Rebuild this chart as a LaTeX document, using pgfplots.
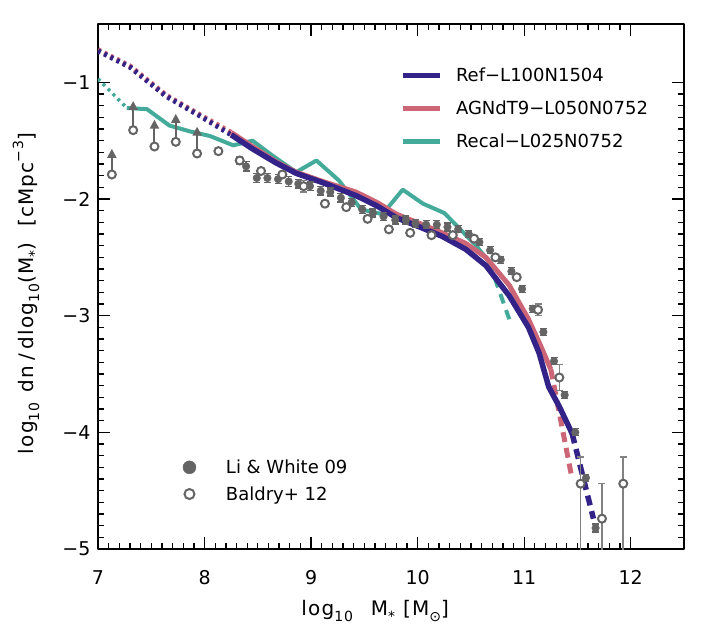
\documentclass[border=0pt]{standalone}
\usepackage{fontspec}
\setmainfont{DejaVu Sans}
\newfontfamily\lblfont[LetterSpace=6]{DejaVu Sans}
\usepackage{pgfplots}
\usepackage{pgfplotstable}
\pgfplotsset{compat=1.18}
\usetikzlibrary{arrows.meta}

\definecolor{refc}{HTML}{332288}
\definecolor{agnc}{HTML}{CC6677}
\definecolor{recc}{HTML}{44AA99}
\definecolor{ptgray}{RGB}{100,100,100}
\definecolor{errgray}{RGB}{130,130,130}

\newcommand{\lsub}[1]{\raisebox{-0.3em}{\fontsize{14}{14}\selectfont #1}}
\newcommand{\lsup}[1]{\raisebox{0.5em}{\fontsize{14}{14}\selectfont #1}}

% models
\pgfplotstableread{
x y
7.00 -0.73
7.30 -0.87
7.64 -1.12
7.96 -1.29
8.25 -1.45
}\refdot
\pgfplotstableread{
x y
8.25 -1.45
8.45 -1.57
8.67 -1.69
8.86 -1.78
9.11 -1.86
9.42 -1.97
9.62 -2.06
9.80 -2.16
10.02 -2.24
10.23 -2.32
10.45 -2.43
10.64 -2.57
10.86 -2.83
11.04 -3.10
11.14 -3.32
11.23 -3.61
11.33 -3.78
11.45 -4.01
}\refsol
\pgfplotstableread{
x y
11.45 -4.01
11.65 -4.74
}\refdash
\pgfplotstableread{
x y
7.00 -0.72
7.30 -0.86
7.64 -1.11
7.96 -1.28
8.25 -1.43
}\agndot
\pgfplotstableread{
x y
8.25 -1.43
8.45 -1.55
8.67 -1.68
8.86 -1.77
9.11 -1.85
9.42 -1.94
9.62 -2.03
9.80 -2.13
10.02 -2.21
10.23 -2.29
10.45 -2.38
10.64 -2.50
10.86 -2.74
11.04 -3.03
11.15 -3.25
11.25 -3.46
}\agnsol
\pgfplotstableread{
x y
11.25 -3.46
11.45 -4.40
}\agndash
\pgfplotstableread{
x y
7.00 -0.97
7.13 -1.09
7.27 -1.22
}\recdot
\pgfplotstableread{
x y
7.27 -1.22
7.46 -1.23
7.67 -1.37
7.86 -1.42
8.05 -1.46
8.27 -1.54
8.45 -1.50
8.64 -1.63
8.86 -1.77
9.05 -1.67
9.26 -1.84
9.47 -2.09
9.67 -2.13
9.86 -1.92
10.05 -2.04
10.25 -2.12
10.40 -2.26
10.55 -2.40
10.67 -2.54
}\recsol
\pgfplotstableread{
x y
10.67 -2.54
10.86 -3.03
}\recdash

% observations
\pgfplotstableread{
x y e
8.39 -1.72 0.04
8.49 -1.82 0.04
8.59 -1.82 0.04
8.69 -1.83 0.04
8.79 -1.85 0.04
8.88 -1.87 0.035
8.99 -1.89 0.035
9.09 -1.93 0.035
9.18 -1.94 0.035
9.28 -1.99 0.035
9.38 -2.03 0.035
9.48 -2.09 0.035
9.58 -2.12 0.035
9.68 -2.15 0.035
9.79 -2.18 0.035
9.89 -2.18 0.035
9.98 -2.21 0.035
10.08 -2.22 0.035
10.18 -2.22 0.035
10.28 -2.24 0.035
10.38 -2.26 0.03
10.48 -2.30 0.03
10.58 -2.37 0.03
10.68 -2.44 0.03
10.78 -2.52 0.03
10.88 -2.62 0.03
10.98 -2.77 0.03
11.08 -2.94 0.03
11.18 -3.14 0.03
11.28 -3.39 0.03
11.38 -3.68 0.03
11.48 -4.00 0.03
11.58 -4.39 0.03
11.67 -4.82 0.035
}\liwhite
\pgfplotstableread{
x y ep em
8.13 -1.59 0.03 0.03
8.33 -1.67 0.03 0.03
8.53 -1.76 0.02 0.02
8.73 -1.79 0.02 0.02
8.93 -1.89 0.05 0.05
9.13 -2.04 0.02 0.02
9.33 -2.07 0.02 0.02
9.53 -2.17 0.02 0.02
9.73 -2.26 0.02 0.02
9.93 -2.29 0.02 0.02
10.13 -2.31 0.02 0.02
10.33 -2.31 0.02 0.02
10.53 -2.34 0.02 0.02
10.73 -2.50 0.02 0.02
10.93 -2.67 0.03 0.03
11.13 -2.95 0.05 0.05
11.33 -3.53 0.11 0.11
11.53 -4.44 0.23 1.00
11.73 -4.74 0.30 1.00
11.93 -4.44 0.23 1.00
}\baldry
\pgfplotstableread{
x y dy
7.13 -1.79 0.22
7.33 -1.41 0.25
7.53 -1.55 0.23
7.73 -1.51 0.24
7.93 -1.61 0.23
}\baldrylim

\pgfplotsset{
  smf/.style={
    width=586pt, height=525pt, scale only axis,
    xmin=7, xmax=12.5, ymin=-5, ymax=-0.5,
  },
}

\begin{document}
\begin{tikzpicture}
\begin{axis}[smf,
  axis line style={line width=1.3pt},
  tick style={black, line width=1.3pt},
  major tick length=12pt, minor tick length=6pt,
  tick align=inside, tick pos=both,
  xtick={7,...,12}, xticklabels={7,8,9,10,11,12},
  ytick={-5,...,-1}, yticklabels={−5,−4,−3,−2,−1},
  minor x tick num=9, minor y tick num=9,
  ticklabel style={font=\fontsize{19}{19}\selectfont},
  xticklabel style={yshift=-18pt},
  yticklabel style={xshift=-4pt},
  xlabel={\lblfont log\lsub{10}\hspace{18pt}M\lsub{*}\hspace{8pt}[M\lsub{⊙}]},
  ylabel={\lblfont log\lsub{10}\hspace{10pt}dn\hspace{5pt}/\hspace{5pt}dlog\lsub{10}(M\lsub{*})\hspace{16pt}[cMpc\lsup{−3}]},
  xlabel style={at={(axis description cs:0.473,-0.1257)}, anchor=base, font=\fontsize{20}{20}\selectfont},
  ylabel style={at={(axis description cs:-0.1109,0.4867)}, anchor=base, font=\fontsize{20}{20}\selectfont},
  legend style={at={(0.5154,0.917)}, anchor=north west, draw=none, fill=none,
    inner sep=0pt, outer sep=0pt, row sep=18pt, column sep=14pt,
    nodes={inner sep=0pt}, font=\fontsize{18}{18}\selectfont},
  legend cell align=left,
  legend image code/.code={\draw[#1] (0pt,0pt) -- (37pt,0pt);},
  line join=round,
]
\addplot[agnc, line width=5pt, dash pattern=on 3pt off 4pt, forget plot] table {\agndot};
\addplot[refc, line width=5pt, dash pattern=on 3pt off 4pt, forget plot] table {\refdot};
\addplot[recc, line width=3.5pt, dash pattern=on 3pt off 4pt, forget plot] table {\recdot};
\addplot[recc, line width=4pt, forget plot] table {\recsol};
\addplot[recc, line width=4pt, dash pattern=on 10pt off 7pt, forget plot] table {\recdash};
\addplot[agnc, line width=5pt, forget plot] table {\agnsol};
\addplot[agnc, line width=5pt, dash pattern=on 10pt off 6pt, forget plot] table {\agndash};
\addplot[refc, line width=5.5pt, forget plot] table {\refsol};
\addplot[refc, line width=5.5pt, dash pattern=on 10pt off 6pt, forget plot] table {\refdash};
\addlegendimage{refc, line width=5pt}
\addlegendentry{Ref−L100N1504}
\addlegendimage{agnc, line width=5pt}
\addlegendentry{AGNdT9−L050N0752}
\addlegendimage{recc, line width=5pt}
\addlegendentry{Recal−L025N0752}
\end{axis}

\begin{axis}[smf, hide axis,
  legend style={at={(0.145,0.170)}, anchor=north west, draw=none, fill=none,
    inner sep=0pt, outer sep=0pt, row sep=11.5pt, column sep=30pt,
    nodes={inner sep=0pt}, font=\fontsize{18}{18}\selectfont},
  legend cell align=left,
  legend image code/.code={\draw[#1] plot coordinates {(0pt,0pt)};},
]
\addplot[ptgray, line width=2pt, -{Triangle[length=9pt,width=9pt]},
  quiver={u=0, v=\thisrow{dy}}, forget plot] table[x=x, y=y] {\baldrylim};
\addplot[only marks, mark=none, forget plot,
  error bars/.cd, y dir=both, y explicit,
  error bar style={errgray, line width=1.6pt},
  error mark options={errgray, rotate=90, mark size=3.5pt, line width=1.6pt}]
  table[x=x, y=y, y error plus=ep, y error minus=em] {\baldry};
\addplot[only marks, mark=*, mark size=3.8pt, ptgray, forget plot,
  error bars/.cd, y dir=both, y explicit,
  error bar style={ptgray, line width=1.3pt},
  error mark options={ptgray, rotate=90, mark size=3.5pt, line width=1.3pt}]
  table[x=x, y=y, y error=e] {\liwhite};
\addplot[only marks, mark=*, mark size=4pt,
  mark options={fill=white, draw=ptgray, line width=2pt}, forget plot]
  table[x=x, y=y] {\baldry};
\addplot[only marks, mark=*, mark size=4pt,
  mark options={fill=white, draw=ptgray, line width=2pt}, forget plot]
  table[x=x, y=y] {\baldrylim};
\addlegendimage{only marks, mark=*, mark size=6.5pt, ptgray}
\addlegendentry{Li \& White 09}
\addlegendimage{only marks, mark=*, mark size=5pt, mark options={fill=white, draw=ptgray, line width=2pt}}
\addlegendentry{Baldry+ 12}
\end{axis}
\pgfresetboundingbox
\path[use as bounding box] ([shift={(-98pt,-80pt)}]current axis.south west) rectangle ([shift={(44pt,24pt)}]current axis.north east);
\end{tikzpicture}
\end{document}
